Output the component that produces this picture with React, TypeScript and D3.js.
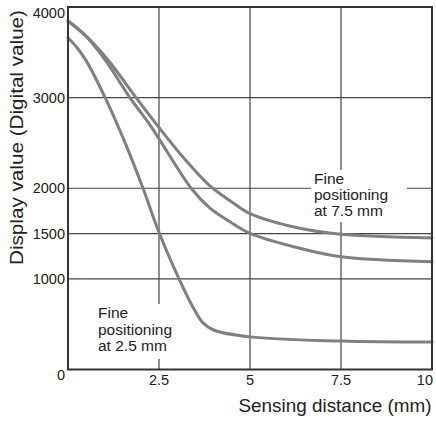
import React from 'react';
import * as d3 from 'd3';

// Series: Fine positioning at 7.5 mm (upper)
const xA = [0, 0.5, 1.1, 1.87, 2.51, 3.2, 3.9, 4.5, 5.0, 6.37, 7.5, 10];
const vA = [3846, 3680, 3416, 3000, 2665, 2325, 2025, 1848, 1720, 1558, 1492, 1451];
// Series: middle curve
const xB = [0, 0.5, 1.02, 1.7, 2.25, 2.51, 3.4, 3.9, 4.45, 5.0, 6.37, 7.5, 10];
const vB = [3846, 3675, 3416, 3000, 2699, 2540, 1992, 1780, 1630, 1503, 1338, 1245, 1190];
// Series: Fine positioning at 2.5 mm
const xC = [0, 0.25, 0.51, 1.02, 1.57, 2.06, 2.51, 3.05, 3.43, 3.71, 4.0, 5.0, 7.5, 10];
const vC = [3660, 3550, 3400, 3000, 2500, 2000, 1503, 1000, 690, 514, 436, 360, 314, 303];

const xGrid = [2.5, 5, 7.5];
const xTickValues = [2.5, 5, 7.5, 10];
const xTickLabels = ['2.5', '5', '7.5', '10'];
const yGrid = [1000, 1500, 2000, 3000];
const yTickValues = [0, 1000, 1500, 2000, 3000, 4000];
const yTickLabels = ['0', '1000', '1500', '2000', '3000', '4000'];

const xTitle = 'Sensing distance (mm)';
const yTitle = 'Display value (Digital value)';
const note75 = ['Fine', 'positioning', 'at 7.5 mm'];
const note25 = ['Fine', 'positioning', 'at 2.5 mm'];

const FONT = '"Liberation Sans", Arial, Helvetica, sans-serif';

export default function App() {
  const x = d3.scaleLinear().domain([0, 10]).range([68, 432]);
  const y = d3.scaleLinear().domain([0, 4000]).range([369.5, 7]);
  const line = d3
    .line<[number, number]>()
    .x((d) => x(d[0]))
    .y((d) => y(d[1]))
    .curve(d3.curveCatmullRom.alpha(0.5));
  const series = [
    xA.map((v, i) => [v, vA[i]] as [number, number]),
    xB.map((v, i) => [v, vB[i]] as [number, number]),
    xC.map((v, i) => [v, vC[i]] as [number, number]),
  ];
  const gridColor = '#444';

  return (
    <svg
      width={436}
      height={421}
      style={{ position: 'absolute', left: 0, top: 0, display: 'block', background: '#fff' }}
      fontFamily={FONT}
    >
      <rect x={0} y={0} width={436} height={421} fill="#fff" />
      {xGrid.map((v) => (
        <line key={'gx' + v} x1={x(v)} x2={x(v)} y1={y(4000)} y2={y(0)} stroke={gridColor} strokeWidth={1.2} />
      ))}
      {yGrid.map((v) => (
        <line key={'gy' + v} x1={x(0)} x2={x(10)} y1={y(v)} y2={y(v)} stroke={gridColor} strokeWidth={1.2} />
      ))}
      {/* white backgrounds behind annotations */}
      <rect x={311} y={170} width={96} height={52} fill="#fff" />
      <rect x={95} y={304} width={82} height={55} fill="#fff" />

      {series.map((s, i) => (
        <path key={'s' + i} d={line(s) || ''} fill="none" stroke="#808080" strokeWidth={3} strokeLinejoin="round" strokeLinecap="round" />
      ))}

      <rect x={x(0)} y={y(4000)} width={x(10) - x(0)} height={y(0) - y(4000)} fill="none" stroke="#333" strokeWidth={2} />

      {yTickValues.map((v, i) => (
        <text
          key={'yt' + v}
          x={65}
          y={v === 4000 ? y(v) + 11 : v === 0 ? 380 : y(v) + 5}
          textAnchor="end"
          fontSize={14.5}
          fill="#222"
        >
          {yTickLabels[i]}
        </text>
      ))}
      {xTickValues.map((v, i) => (
        <text
          key={'xt' + v}
          x={v === 10 ? x(v) + 1 : x(v)}
          y={385}
          textAnchor={v === 10 ? 'end' : 'middle'}
          fontSize={14.5}
          fill="#222"
        >
          {xTickLabels[i]}
        </text>
      ))}

      <text x={238.5} y={412} fontSize={18} fill="#222" textLength={193} lengthAdjust="spacingAndGlyphs">
        {xTitle}
      </text>
      <text
        transform="translate(23,137.5) rotate(-90)"
        textAnchor="middle"
        fontSize={18}
        fill="#222"
        textLength={255}
        lengthAdjust="spacingAndGlyphs"
      >
        {yTitle}
      </text>

      {note75.map((t, i) => (
        <text key={'n75' + i} x={314} y={183.5 + i * 16} fontSize={15.5} fill="#222">
          {t}
        </text>
      ))}
      {note25.map((t, i) => (
        <text key={'n25' + i} x={98} y={318 + i * 16.5} fontSize={15.5} fill="#222">
          {t}
        </text>
      ))}
    </svg>
  );
}
